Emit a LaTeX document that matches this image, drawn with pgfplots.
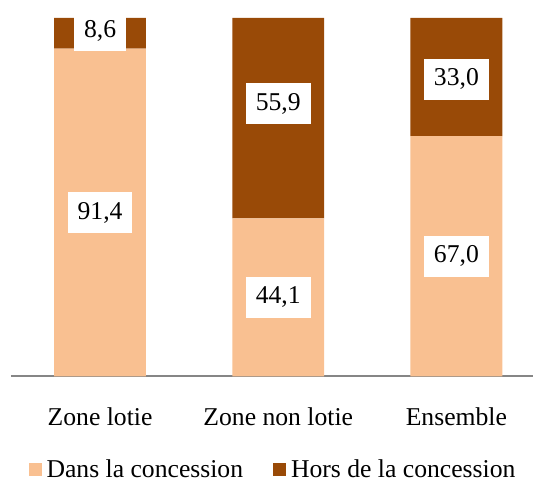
\documentclass[border=0pt]{standalone}
\usepackage{fontspec}
\setmainfont{Liberation Serif}
\usepackage{pgfplots}
\pgfplotsset{compat=1.18}

\definecolor{peach}{RGB}{249,192,145}
\definecolor{rust}{RGB}{153,74,7}
\newcommand\bigf{\fontsize{25.7bp}{30bp}\selectfont}
\pgfplotsset{sqlegend/.style={legend image code/.code={\fill[##1] (0bp,-6.5bp) rectangle (13bp,6.5bp);}}}
\tikzset{lbl/.style={fill=white, font=\bigf, inner xsep=10bp, minimum height=41bp}}

\begin{document}
\begin{tikzpicture}
\begin{axis}[
  scale only axis, width=523bp, height=377bp,
  ybar stacked, bar width=92bp,
  xmin=-0.5, xmax=2.43, ymin=0, ymax=105,
  hide y axis, axis x line*=bottom,
  x axis line style={draw=gray!95, line width=2bp},
  xtick={0,1,2}, major tick length=0pt,
  xticklabels={Zone lotie, Zone non lotie, Ensemble},
  xticklabel style={font=\bigf, inner sep=0pt, anchor=north, yshift=-31bp},
  clip=false,
  legend columns=2,
  legend style={at={(0.5,-0.247)}, anchor=center, draw=none, fill=none,
    font=\bigf, inner sep=0pt, nodes={inner sep=0pt},
    /tikz/every odd column/.append style={column sep=5bp},
    /tikz/every even column/.append style={column sep=30bp}}
]
% Dans la concession
\addplot[fill=peach, draw=none, sqlegend]
  coordinates {(0,91.4) (1,44.1) (2,67.0)};
\addlegendentry{Dans la concession}
% Hors de la concession
\addplot[fill=rust, draw=none, sqlegend]
  coordinates {(0,8.6) (1,55.9) (2,33.0)};
\addlegendentry{Hors de la concession}

% anchor points for the value labels
\coordinate (a1) at (axis cs:0,45.7);
\coordinate (a2) at (axis cs:0,96.5);
\coordinate (b1) at (axis cs:1,22.05);
\coordinate (b2) at (axis cs:1,76.0);
\coordinate (c1) at (axis cs:2,33.5);
\coordinate (c2) at (axis cs:2,82.9);
\path (rel axis cs:0,1) (rel axis cs:0,0) ++(-11bp,-108bp);
\end{axis}
\node[lbl] at (a1) {91,4};
\node[lbl] at (a2) {8,6};
\node[lbl] at (b1) {44,1};
\node[lbl] at (b2) {55,9};
\node[lbl] at (c1) {67,0};
\node[lbl] at (c2) {33,0};
\end{tikzpicture}
\end{document}
